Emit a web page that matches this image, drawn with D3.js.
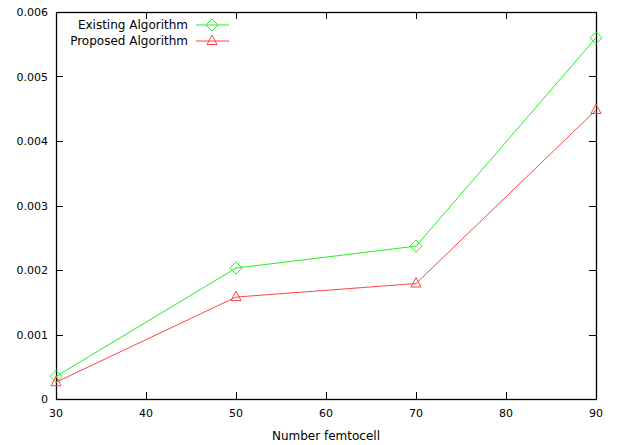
<!DOCTYPE html>
<html><head><meta charset="utf-8">
<script src="https://cdn.jsdelivr.net/npm/d3@7"></script>
<style>body{margin:0;background:#fff}svg{display:block}text{font-family:"DejaVu Sans",sans-serif;font-size:11px;fill:#000}.big{font-size:12px}</style>
</head><body>
<script>
const xValues = [30, 50, 70, 90];
const existing = [0.00035, 0.00203, 0.00237, 0.0056];
const proposed = [0.00026, 0.00158, 0.00179, 0.00448];
const xTicks = [30, 40, 50, 60, 70, 80, 90];
const yTicks = [0, 0.001, 0.002, 0.003, 0.004, 0.005, 0.006];
const seriesNames = ["Existing Algorithm", "Proposed Algorithm"];

const W = 619, H = 445;
const m = {l: 56, r: 23, t: 12, b: 46};
const svg = d3.select("body").append("svg").attr("width", W).attr("height", H);
const x = d3.scaleLinear().domain([30, 90]).range([m.l, W - m.r]);
const y = d3.scaleLinear().domain([0, 0.006]).range([H - m.b, m.t]);
const tl = 7;

// ticks (inward, mirrored)
const g = svg.append("g").attr("stroke", "#000").attr("stroke-width", 1);
xTicks.forEach(v => {
  const px = Math.round(x(v)) + 0.5;
  g.append("line").attr("x1", px).attr("x2", px).attr("y1", y(0)).attr("y2", y(0) - tl);
  g.append("line").attr("x1", px).attr("x2", px).attr("y1", y(0.006)).attr("y2", y(0.006) + tl);
});
yTicks.forEach(v => {
  const py = Math.round(y(v)) + 0.5;
  g.append("line").attr("x1", x(30)).attr("x2", x(30) + tl).attr("y1", py).attr("y2", py);
  g.append("line").attr("x1", x(90)).attr("x2", x(90) - tl).attr("y1", py).attr("y2", py);
});
svg.append("rect").attr("x", Math.round(x(30)) + 0.5).attr("y", Math.round(y(0.006)) + 0.5)
  .attr("width", Math.round(x(90)) - Math.round(x(30))).attr("height", Math.round(y(0)) - Math.round(y(0.006)))
  .attr("fill", "none").attr("stroke", "#000").attr("stroke-width", 1.3);

// tick labels
xTicks.forEach(v => svg.append("text").attr("x", x(v)).attr("y", y(0) + 18).attr("text-anchor", "middle").text(v));
yTicks.forEach(v => svg.append("text").attr("x", m.l - 8).attr("y", y(v) + 4).attr("text-anchor", "end").text(v === 0 ? "0" : d3.format(".3f")(v)));
svg.append("text").attr("class", "big").attr("x", (x(30) + x(90)) / 2).attr("y", 440).attr("text-anchor", "middle").text("Number femtocell");

const colors = ["#22ee22", "#ff4444"];
const line = d3.line().x((d, i) => x(xValues[i])).y(d => y(d));
const diamond = (cx, cy) => `M${cx},${cy - 6}L${cx + 6},${cy}L${cx},${cy + 6}L${cx - 6},${cy}Z`;
const triangle = (cx, cy) => `M${cx},${cy - 6}L${cx + 5},${cy + 3.5}L${cx - 5},${cy + 3.5}Z`;
const shapes = [diamond, triangle];

[existing, proposed].forEach((data, k) => {
  svg.append("path").attr("d", line(data)).attr("fill", "none").attr("stroke", colors[k]).attr("stroke-width", 1);
  data.forEach((d, i) => svg.append("path").attr("d", shapes[k](x(xValues[i]), y(d)))
    .attr("fill", "none").attr("stroke", colors[k]).attr("stroke-width", 1));
});

// legend
seriesNames.forEach((name, k) => {
  const ly = 25 + k * 16;
  svg.append("text").attr("class", "big").attr("x", 188).attr("y", ly + 4).attr("text-anchor", "end").text(name);
  svg.append("line").attr("x1", 196).attr("x2", 229).attr("y1", ly).attr("y2", ly).attr("stroke", colors[k]);
  svg.append("path").attr("d", shapes[k](212, ly)).attr("fill", "none").attr("stroke", colors[k]);
});
</script>
</body></html>
